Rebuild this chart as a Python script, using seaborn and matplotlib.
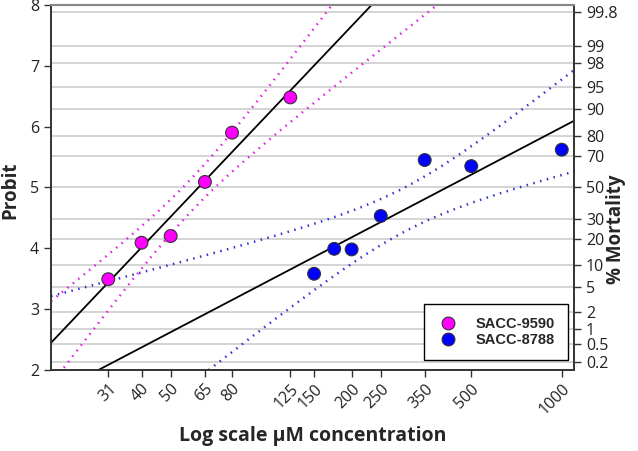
import numpy as np
import pandas as pd
import seaborn as sns
import matplotlib.pyplot as plt
from statistics import NormalDist

# data (concentration in uM, probit value)
conc_9590 = [31, 40, 50, 65, 80, 125]
probit_9590 = [3.49, 4.09, 4.20, 5.09, 5.90, 6.48]
conc_8788 = [150, 175, 200, 250, 350, 500, 1000]
probit_8788 = [3.58, 3.99, 3.98, 4.53, 5.45, 5.35, 5.62]

x_ticks = [31, 40, 50, 65, 80, 125, 150, 200, 250, 350, 500, 1000]
mortality_ticks = [0.2, 0.5, 1, 2, 5, 10, 20, 30, 50, 70, 80, 90, 95, 98, 99, 99.8]
t_crit = {4: 2.776, 5: 2.571}  # 95% two-sided t values by degrees of freedom

sns.set_style('white')
plt.rcParams['font.family'] = ['Open Sans', 'DejaVu Sans']

df = pd.DataFrame({
    'conc': conc_9590 + conc_8788,
    'probit': probit_9590 + probit_8788,
    'strain': ['SACC-9590'] * len(conc_9590) + ['SACC-8788'] * len(conc_8788),
})


def fit_band(conc, probit, xs):
    lx = np.log10(conc)
    y = np.asarray(probit)
    b, a = np.polyfit(lx, y, 1)
    n = len(lx)
    s = np.sqrt(np.sum((y - (a + b * lx)) ** 2) / (n - 2))
    sxx = np.sum((lx - lx.mean()) ** 2)
    lxs = np.log10(xs)
    fit = a + b * lxs
    half = t_crit[n - 2] * s * np.sqrt(1 / n + (lxs - lx.mean()) ** 2 / sxx)
    return fit, fit - half, fit + half


fig = plt.figure(figsize=(6.38, 4.51), dpi=100)
ax = fig.add_axes([0.080, 0.180, 0.820, 0.809])
ax2 = ax.twinx()

xs = np.logspace(np.log10(20), np.log10(1100), 300)
for conc, probit, band_col in [(conc_9590, probit_9590, '#e020e0'),
                               (conc_8788, probit_8788, '#3030d0')]:
    fit, lo, hi = fit_band(conc, probit, xs)
    sns.lineplot(x=xs, y=fit, color='black', lw=1.3, ax=ax, zorder=2)
    sns.lineplot(x=xs, y=lo, color=band_col, lw=1.8, ls=(0, (0.6, 2.2)), ax=ax, zorder=2)
    sns.lineplot(x=xs, y=hi, color=band_col, lw=1.8, ls=(0, (0.6, 2.2)), ax=ax, zorder=2)

sns.scatterplot(data=df, x='conc', y='probit', hue='strain',
                palette={'SACC-9590': '#ff00ff', 'SACC-8788': '#0000ff'},
                s=85, edgecolor='#333333', linewidth=0.8, ax=ax, zorder=3)

ax.set_xscale('log')
ax.set_xlim(20, 1100)
ax.set_ylim(2, 8)
ax.set_xticks(x_ticks)
ax.set_xticklabels([str(v) for v in x_ticks], rotation=45, ha='right', rotation_mode='anchor')
ax.minorticks_off()
ax.set_yticks(range(2, 9))
ax.tick_params(axis='both', length=5, width=1, color='#333333', labelsize=11.5, labelcolor='#222222', direction='out')
ax.tick_params(axis='y', left=True)
ax.tick_params(axis='x', bottom=True, pad=3)
ax.set_xlabel('Log scale μM concentration', fontsize=14, fontweight='bold')
ax.xaxis.set_label_coords(0.5, -0.155)
ax.set_ylabel('Probit', fontsize=13.5, fontweight='bold')
ax.yaxis.set_label_coords(-0.059, 0.493)

# right axis: % mortality on probit scale
ax2.set_ylim(2, 8)
ax2.set_yticks([5 + NormalDist().inv_cdf(p / 100) for p in mortality_ticks])
ax2.set_yticklabels([f'{p:g}' for p in mortality_ticks])
ax2.tick_params(axis='y', right=True, length=5, width=1, color='#333333', labelsize=11.5, labelcolor='#222222')
ax2.set_ylabel('% Mortality', fontsize=13.5, fontweight='bold')
ax2.yaxis.set_label_coords(1.06, 0.386)
ax2.grid(axis='y', color='#d4d4d4', lw=1.4)
ax.set_zorder(ax2.get_zorder() + 1)
ax.patch.set_visible(False)

for a in (ax, ax2):
    for side in ['left', 'bottom', 'right']:
        a.spines[side].set_color('#333333')
        a.spines[side].set_linewidth(1.2)
    a.spines['top'].set_color('#888888')
    a.spines['top'].set_linewidth(1.5)

handles, labels = ax.get_legend_handles_labels()
leg = ax.legend(handles, labels, loc='lower right', bbox_to_anchor=(0.989, 0.027),
                frameon=True, fancybox=False, edgecolor='black', framealpha=1,
                prop={'family': 'Liberation Sans', 'weight': 'bold', 'size': 10.5},
                borderpad=0.9, handletextpad=1.1, handlelength=1.6, labelspacing=0.1,
                borderaxespad=0)
leg.get_frame().set_linewidth(1.0)

fig.savefig('out.png', dpi=100)
